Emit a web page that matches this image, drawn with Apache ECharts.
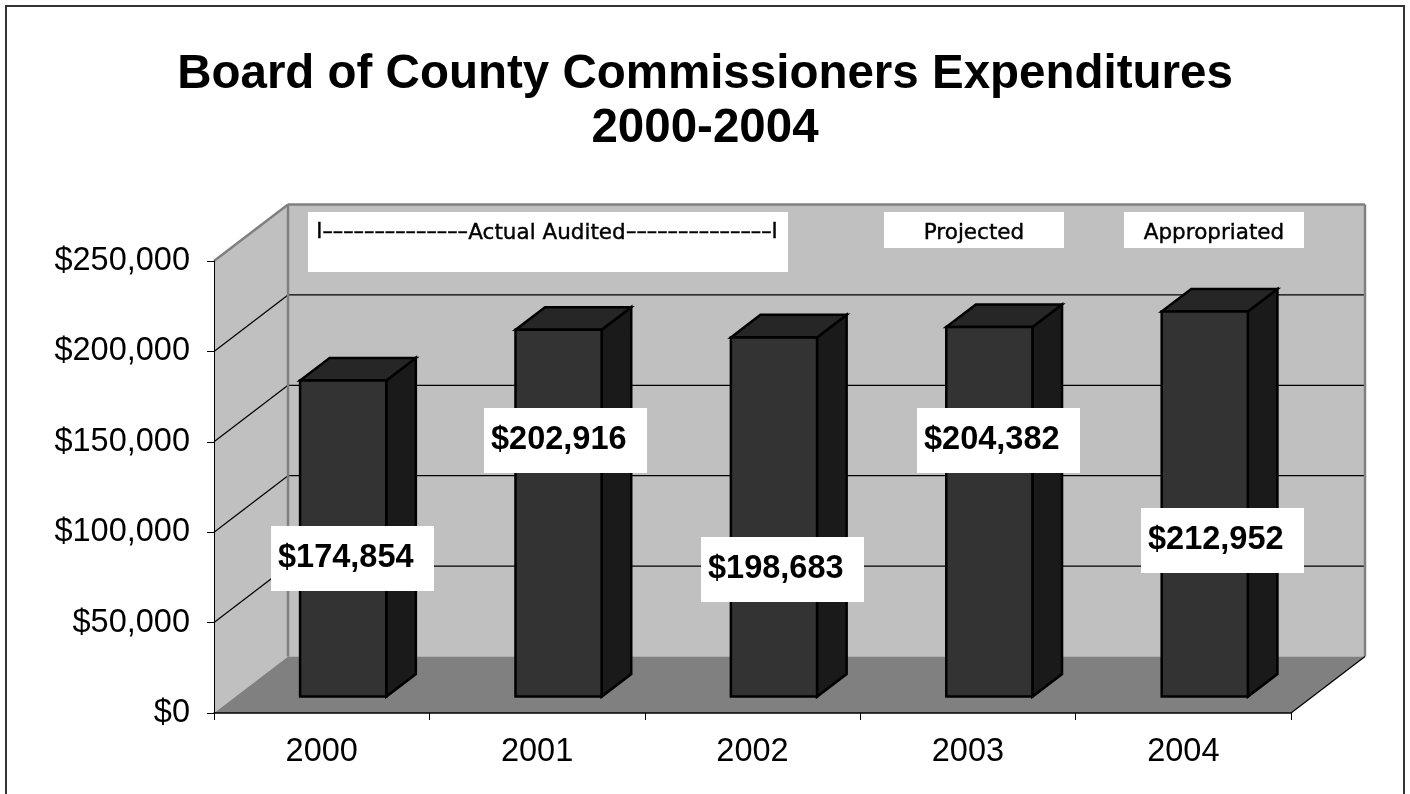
<!DOCTYPE html>
<html>
<head>
<meta charset="utf-8">
<title>Board of County Commissioners Expenditures 2000-2004</title>
<script src="https://cdn.jsdelivr.net/npm/echarts@6/dist/echarts.min.js"></script>
<style>
  html, body { margin: 0; padding: 0; background: #fff; }
  #chart { width: 1410px; height: 794px; }
</style>
</head>
<body>
<div id="chart"></div>
<script>
// Chart data
const categories = ['2000', '2001', '2002', '2003', '2004'];
const expenditures = [174854, 202916, 198683, 204382, 212952];
const gridValues = [50000, 100000, 150000, 200000];
const axisMax = 250000;
const titleLines = ['Board of County Commissioners Expenditures', '2000-2004'];
const actualNote = 'Actual Audited';
const actualRuleLeft = 'I\u2013\u2013\u2013\u2013\u2013\u2013\u2013\u2013\u2013\u2013\u2013\u2013\u2013\u2013';
const actualRuleRight = '\u2013\u2013\u2013\u2013\u2013\u2013\u2013\u2013\u2013\u2013\u2013\u2013\u2013\u2013I';
const projectedNote = 'Projected';
const appropriatedNote = 'Appropriated';

// Oblique projection of the chart box: how far the back wall sits from the axis plane
const WALL_DX = 74;
const WALL_DY = -56.5;
// Bars stand about 30% into the box and reach 70% of its depth
const BAR_NEAR = 0.29;
const BAR_FAR = 0.69;
const BAR_WIDTH_RATIO = 0.4;

// Top-left corner of the white value boxes, one per year
const labelBoxes = [[271, 526], [484, 408], [701, 537], [917, 408], [1141, 508]];
const LABEL_W = 163;
const LABEL_H = 65;

const money = v => '$' + Number(v).toLocaleString('en-US');
const shift = (p, t) => [p[0] + WALL_DX * t, p[1] + WALL_DY * t];

function poly(points, fill, stroke, lineWidth) {
  return {
    type: 'polygon',
    shape: { points },
    style: { fill, stroke: stroke || null, lineWidth: lineWidth || 0, lineJoin: 'miter' },
    silent: true
  };
}
function line(a, b, stroke, lineWidth) {
  return {
    type: 'line',
    shape: { x1: a[0], y1: a[1], x2: b[0], y2: b[1] },
    style: { stroke, lineWidth },
    silent: true
  };
}

// Walls, floor and gridlines of the box, all derived from the axis scale
function renderBox(params, api) {
  const n = categories.length;
  const cat = api.size([1, 0])[0];
  const x0 = api.coord([0, 0])[0] - cat / 2;
  const x1 = x0 + cat * n;
  const at = (x, v) => [x, api.coord([0, v])[1]];
  const a0 = at(x0, 0), aT = at(x0, axisMax), b0 = at(x1, 0);
  const children = [
    poly([a0, aT, shift(aT, 1), shift(a0, 1)], '#c0c0c0'),
    poly([shift(a0, 1), shift(aT, 1), shift(at(x1, axisMax), 1), shift(b0, 1)], '#c0c0c0'),
    poly([a0, b0, shift(b0, 1), shift(a0, 1)], '#808080')
  ];
  gridValues.forEach(v => {
    const p = at(x0, v), q = at(x1, v);
    children.push(line(p, shift(p, 1), '#000', 1.2));
    children.push(line(shift(p, 1), shift(q, 1), '#000', 1.2));
  });
  children.push(line(aT, shift(aT, 1), '#808080', 2.5));
  children.push(line(shift(aT, 1), shift(at(x1, axisMax), 1), '#808080', 2.5));
  children.push(line(shift(at(x1, axisMax), 1), shift(b0, 1), '#808080', 2.5));
  children.push(line(shift(a0, 1), shift(aT, 1), '#808080', 2.5));
  children.push(line(b0, shift(b0, 1), '#000', 1.2));
  return { type: 'group', children };
}

// One oblique bar: front, top and side faces
function renderBar(params, api) {
  const idx = api.value(0);
  const val = api.value(1);
  const c = api.coord([idx, 0]);
  const top = api.coord([idx, val]);
  const w = api.size([1, 0])[0] * BAR_WIDTH_RATIO;
  const fbl = shift([c[0] - w / 2, c[1]], BAR_NEAR);
  const fbr = shift([c[0] + w / 2, c[1]], BAR_NEAR);
  const ftl = shift([c[0] - w / 2, top[1]], BAR_NEAR);
  const ftr = shift([c[0] + w / 2, top[1]], BAR_NEAR);
  const d = BAR_FAR - BAR_NEAR;
  const edge = '#000';
  return {
    type: 'group',
    children: [
      poly([fbr, ftr, shift(ftr, d), shift(fbr, d)], '#1a1a1a', edge, 2.5),
      poly([ftl, ftr, shift(ftr, d), shift(ftl, d)], '#262626', edge, 2.5),
      poly([fbl, fbr, ftr, ftl], '#333333', edge, 2.5)
    ]
  };
}

// White value box with the year's figure
function renderValueLabel(params, api) {
  const box = labelBoxes[api.value(0)];
  return {
    type: 'group',
    children: [
      { type: 'rect', shape: { x: box[0], y: box[1], width: LABEL_W, height: LABEL_H }, style: { fill: '#fff' }, silent: true },
      {
        type: 'text',
        style: {
          x: box[0] + 7,
          y: box[1] + LABEL_H / 2,
          text: money(api.value(1)),
          fill: '#000',
          font: 'bold 32.5px "Liberation Sans"',
          textAlign: 'left',
          textVerticalAlign: 'middle'
        },
        silent: true
      }
    ]
  };
}

function noteText(x, y, text, align, size) {
  return {
    type: 'text', z: 41, silent: true,
    style: {
      x, y, text,
      fill: '#000', stroke: '#000', lineWidth: 0.4,
      font: size + 'px "DejaVu Sans"',
      textAlign: align, textVerticalAlign: 'middle'
    }
  };
}

function noteBox(x, y, width, height) {
  return { type: 'rect', z: 40, shape: { x, y, width, height }, style: { fill: '#fff' }, silent: true };
}

const chart = echarts.init(document.getElementById('chart'), null, { renderer: 'canvas' });
const barData = expenditures.map((v, i) => [i, v]);

chart.setOption({
  animation: false,
  backgroundColor: '#fff',
  title: {
    text: titleLines.join('\n'),
    left: 'center',
    top: 43,
    textStyle: {
      fontFamily: '"Liberation Sans"',
      fontWeight: 'bold',
      fontSize: 47.5,
      lineHeight: 54,
      color: '#000'
    }
  },
  grid: { left: 214, top: 261, width: 1077, height: 452, containLabel: false },
  xAxis: {
    type: 'category',
    data: categories,
    z: 20,
    axisLine: { show: true, lineStyle: { color: '#000', width: 1.5 } },
    axisTick: { show: true, length: 7, lineStyle: { color: '#000', width: 1 } },
    axisLabel: { color: '#000', fontFamily: '"Liberation Sans"', fontSize: 32.5, margin: 23 },
    splitLine: { show: false }
  },
  yAxis: {
    type: 'value',
    min: 0,
    max: axisMax,
    interval: 50000,
    z: 20,
    axisLine: { show: true, lineStyle: { color: '#000', width: 1 } },
    axisTick: { show: true, length: 7, lineStyle: { color: '#000', width: 1 } },
    axisLabel: { color: '#000', fontFamily: '"Liberation Sans"', fontSize: 32.5, margin: 24, padding: [3, 0, 0, 0], formatter: money },
    splitLine: { show: false }
  },
  graphic: [
    {
      type: 'polyline', z: 60, silent: true,
      shape: { points: [[6, 800], [6, 6], [1404, 6], [1404, 800]] },
      style: { stroke: '#333', lineWidth: 2, fill: null }
    },
    noteBox(308, 212, 480, 60),
    noteText(468, 233, actualRuleLeft, 'right', 20.8),
    noteText(547, 233, actualNote, 'center', 21.5),
    noteText(626, 233, actualRuleRight, 'left', 20.8),
    noteBox(884, 212, 180, 36),
    noteText(974, 233, projectedNote, 'center', 21.5),
    noteBox(1124, 212, 180, 36),
    noteText(1214, 233, appropriatedNote, 'center', 21.5)
  ],
  series: [
    { type: 'custom', name: 'Box', z: 1, silent: true, clip: false, data: [[0, 0]], encode: { x: 0, y: 1 }, renderItem: renderBox },
    { type: 'custom', name: 'Expenditures', z: 5, silent: true, clip: false, data: barData, encode: { x: 0, y: 1 }, renderItem: renderBar },
    { type: 'custom', name: 'Value labels', z: 30, silent: true, clip: false, data: barData, encode: { x: 0, y: 1 }, renderItem: renderValueLabel }
  ]
});
</script>
</body>
</html>
